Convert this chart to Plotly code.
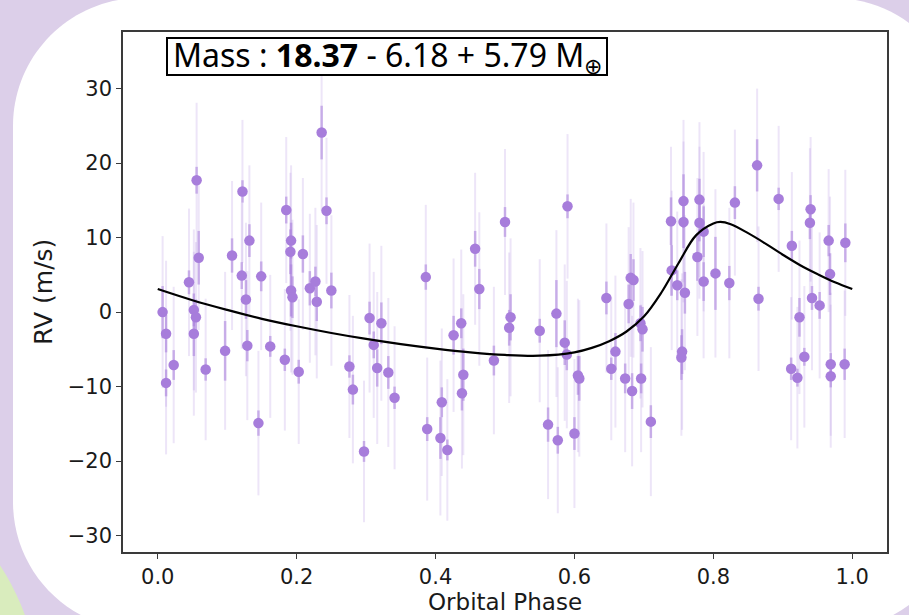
import plotly.graph_objects as go

# ---------------- data ----------------
phase = [0.007,0.012,0.012,0.023,0.045,0.052,0.052,0.055,0.056,0.059,
         0.069,0.097,0.107,0.121,0.122,0.127,0.129,0.132,0.145,0.149,
         0.162,0.183,0.185,0.192,0.191,0.192,0.194,0.203,0.209,0.219,
         0.227,0.229,0.236,0.243,0.250,0.276,0.281,0.297,0.305,0.311,
         0.316,0.322,0.332,0.341,0.386,0.388,0.407,0.409,0.417,0.426,
         0.437,0.438,0.440,0.457,0.463,0.484,0.500,0.506,0.508,0.550,
         0.562,0.574,0.576,0.586,0.589,0.590,0.600,0.605,0.607,0.646,
         0.653,0.659,0.673,0.678,0.681,0.685,0.683,0.695,0.696,0.698,
         0.710,0.739,0.740,0.748,0.757,0.757,0.755,0.754,0.759,0.777,
         0.780,0.780,0.786,0.786,0.803,0.823,0.831,0.863,0.865,0.894,
         0.913,0.912,0.921,0.924,0.931,0.940,0.939,0.942,0.953,0.966,
         0.968,0.969,0.969,0.990,0.989]

rv = [0.0,-2.9,-9.5,-7.1,4.0,0.3,-2.9,-0.7,17.7,7.3,
      -7.7,-5.2,7.6,4.9,16.2,1.7,-4.5,9.6,-14.9,4.8,
      -4.6,-6.4,13.7,9.6,8.1,2.9,2.0,-8.0,7.8,3.2,
      4.1,1.4,24.1,13.6,2.9,-7.3,-10.4,-18.7,-0.8,-4.4,
      -7.5,-1.5,-8.1,-11.5,4.7,-15.7,-16.9,-12.1,-18.5,-3.1,
      -1.5,-10.9,-8.4,8.5,3.1,-6.5,12.1,-2.1,-0.7,-2.5,
      -15.1,-0.2,-17.2,-4.1,-5.7,14.2,-16.3,-8.5,-8.9,1.9,
      -7.6,-5.3,-8.9,1.1,4.6,4.3,-10.6,-1.5,-8.9,-2.3,
      -14.7,12.2,5.6,3.6,14.9,12.1,-5.3,-6.1,2.6,7.4,
      15.1,12.0,10.8,4.1,5.2,3.9,14.7,19.7,1.8,15.2,
      8.9,-7.6,-8.8,-0.7,-6.0,13.8,12.0,1.9,0.9,9.6,
      5.1,-7.0,-8.6,9.3,-7.0]

# inner (measurement) error bars
err_in = [3.5,2.5,1.8,2.0,1.6,2.2,3.0,2.4,1.8,3.6,
          1.5,4.0,2.3,1.8,1.5,2.6,2.1,2.2,1.7,2.0,
          1.4,1.5,1.8,2.4,3.0,3.5,2.8,1.6,2.5,2.3,
          2.0,2.6,3.6,1.8,2.4,1.5,2.0,1.4,2.2,1.8,
          2.5,2.8,2.2,1.5,1.7,1.6,2.8,2.0,1.4,2.6,
          2.0,2.3,3.5,2.4,2.7,2.0,2.0,2.4,3.1,1.6,
          2.3,4.5,1.8,3.0,2.1,1.6,2.2,2.6,3.0,2.2,
          1.5,2.5,2.0,2.6,3.2,2.8,2.4,2.4,2.0,3.0,
          2.2,3.2,3.4,2.0,3.6,3.5,3.0,3.0,2.8,3.2,
          2.8,2.5,3.4,2.6,4.9,2.3,2.2,3.5,1.6,1.5,
          2.0,1.5,1.2,2.6,1.2,1.9,2.2,1.6,1.8,2.1,
          2.8,1.5,1.5,2.6,2.1]

# outer (with jitter) error bars
err_out = [10.2,9.8,9.6,10.5,9.9,10.8,11.0,10.1,10.4,9.7,
           9.5,10.6,10.0,9.8,9.6,10.3,10.0,10.1,9.7,9.9,
           9.6,9.5,9.8,10.1,10.6,11.0,10.4,9.7,10.2,10.0,
           9.9,10.3,10.5,9.8,10.1,9.6,9.9,9.5,10.0,9.8,
           10.2,10.4,10.0,9.6,9.7,9.6,10.4,9.9,9.5,10.3,
           9.9,10.1,10.8,10.2,10.3,9.9,9.8,10.1,10.6,9.6,
           10.0,11.2,9.8,10.5,9.9,9.7,10.0,10.3,10.5,10.0,
           9.6,10.2,9.9,10.3,10.6,10.4,10.1,10.1,9.9,10.5,
           10.0,10.0,10.7,9.9,10.9,10.8,10.5,10.5,10.4,10.6,
           10.4,10.2,10.7,10.3,11.3,10.1,9.8,10.3,9.7,9.8,
           9.9,9.6,9.5,10.3,9.5,9.7,10.0,9.7,9.8,9.6,
           10.4,9.6,9.6,9.8,9.9]

# fitted model curve
model_phase = [0.0,0.05,0.1,0.15,0.2,0.25,0.3,0.35,0.4,0.45,0.5,0.55,0.6,
               0.625,0.65,0.675,0.7,0.725,0.75,0.775,0.8,0.81,0.825,0.85,
               0.875,0.9,0.925,0.95,0.975,1.0]
model_rv = [3.1,1.6,0.3,-0.9,-1.9,-2.8,-3.6,-4.3,-4.9,-5.4,-5.75,-5.85,-5.4,
            -4.8,-3.9,-2.6,-0.6,2.6,6.6,10.3,11.9,12.1,11.8,10.6,
            9.2,7.7,6.3,5.1,4.0,3.1]

x_ticks = [0.0, 0.2, 0.4, 0.6, 0.8, 1.0]
y_ticks = [-30, -20, -10, 0, 10, 20, 30]

# ---------------- figure ----------------
W, H = 909, 615
ML, MR, MT, MB = 123, 22, 32, 63
PW, PH = W - ML - MR, H - MT - MB

def px(x):
    return (x - ML) / PW

def py(y):
    return (H - MB - y) / PH

PURPLE = "#a77ddb"

fig = go.Figure()

fig.add_trace(go.Scatter(
    x=phase, y=rv, mode="markers",
    marker=dict(size=1, color="rgba(0,0,0,0)"),
    error_y=dict(type="data", array=err_out, visible=True, width=0,
                 thickness=2, color="rgba(167,125,219,0.2)"),
    hoverinfo="skip", showlegend=False))

fig.add_trace(go.Scatter(
    x=phase, y=rv, mode="markers",
    marker=dict(size=10.5, color=PURPLE, line=dict(width=0)),
    error_y=dict(type="data", array=err_in, visible=True, width=0,
                 thickness=2.5, color="rgba(167,125,219,0.55)"),
    showlegend=False))

fig.add_trace(go.Scatter(
    x=model_phase, y=model_rv, mode="lines",
    line=dict(color="black", width=2.2, shape="spline", smoothing=1.0),
    showlegend=False))

# background shapes (pixel -> paper)
k = 0.5523
L, T, R, B, r = 13, -2, 961, 630, 128

def P(x, y):
    return f"{px(x):.5f},{py(y):.5f}"

path = (
    f"M {P(L + r, T)} L {P(R - r, T)} "
    f"C {P(R - r + k*r, T)} {P(R, T + r - k*r)} {P(R, T + r)} "
    f"L {P(R, B - r)} "
    f"C {P(R, B - r + k*r)} {P(R - r + k*r, B)} {P(R - r, B)} "
    f"L {P(L + r, B)} "
    f"C {P(L + r - k*r, B)} {P(L, B - r + k*r)} {P(L, B - r)} "
    f"L {P(L, T + r)} "
    f"C {P(L, T + r - k*r)} {P(L + r - k*r, T)} {P(L + r, T)} Z"
)

gcx, gcy, gr = -200, 696, 239
shapes = [
    dict(type="circle", xref="paper", yref="paper", layer="below",
         x0=px(gcx - gr), x1=px(gcx + gr), y0=py(gcy + gr), y1=py(gcy - gr),
         fillcolor="#d9ecbd", line=dict(width=0)),
    dict(type="path", xref="paper", yref="paper", layer="below", path=path,
         fillcolor="white", line=dict(width=0)),
    # box behind the mass label
    dict(type="rect", xref="paper", yref="paper", layer="above",
         x0=px(167), x1=px(607), y0=py(75), y1=py(38),
         fillcolor="white", line=dict(color="black", width=2)),
]

axis_common = dict(
    showline=True, linecolor="#3a3a3a", linewidth=1.5, mirror=True,
    ticks="outside", ticklen=5, tickwidth=1.3, tickcolor="#3a3a3a",
    showgrid=False, zeroline=False, automargin=False,
    tickfont=dict(family="DejaVu Sans", size=21, color="#1a1a1a"),
)

fig.update_layout(
    width=W, height=H,
    margin=dict(l=ML, r=MR, t=MT, b=MB, pad=0, autoexpand=False),
    paper_bgcolor="#dccfe9",
    plot_bgcolor="rgba(0,0,0,0)",
    shapes=shapes,
    xaxis=dict(range=[-0.05, 1.05], tickvals=x_ticks, tickformat=".1f",
               **axis_common),
    yaxis=dict(range=[-32.2, 37.6], tickvals=y_ticks, **axis_common),
    annotations=[
        dict(xref="paper", yref="paper", x=px(387), y=py(57),
             xanchor="center", yanchor="middle", showarrow=False,
             text="Mass : <b>18.37</b> - 6.18 + 5.79 M<sub>⊕</sub>",
             font=dict(family="Noto Sans", size=32, color="black")),
        dict(xref="paper", yref="paper", x=px(505), y=py(602),
             xanchor="center", yanchor="middle", showarrow=False,
             text="Orbital Phase",
             font=dict(family="DejaVu Sans", size=23, color="#1a1a1a")),
        dict(xref="paper", yref="paper", x=px(43), y=py(292),
             xanchor="center", yanchor="middle", showarrow=False,
             text="RV (m/s)", textangle=-90,
             font=dict(family="DejaVu Sans", size=25, color="#1a1a1a")),
    ],
)

fig.write_html(
    "out.html",
    config={"displayModeBar": False},
    post_script="document.body.style.margin='0';document.body.style.overflow='hidden';",
)
